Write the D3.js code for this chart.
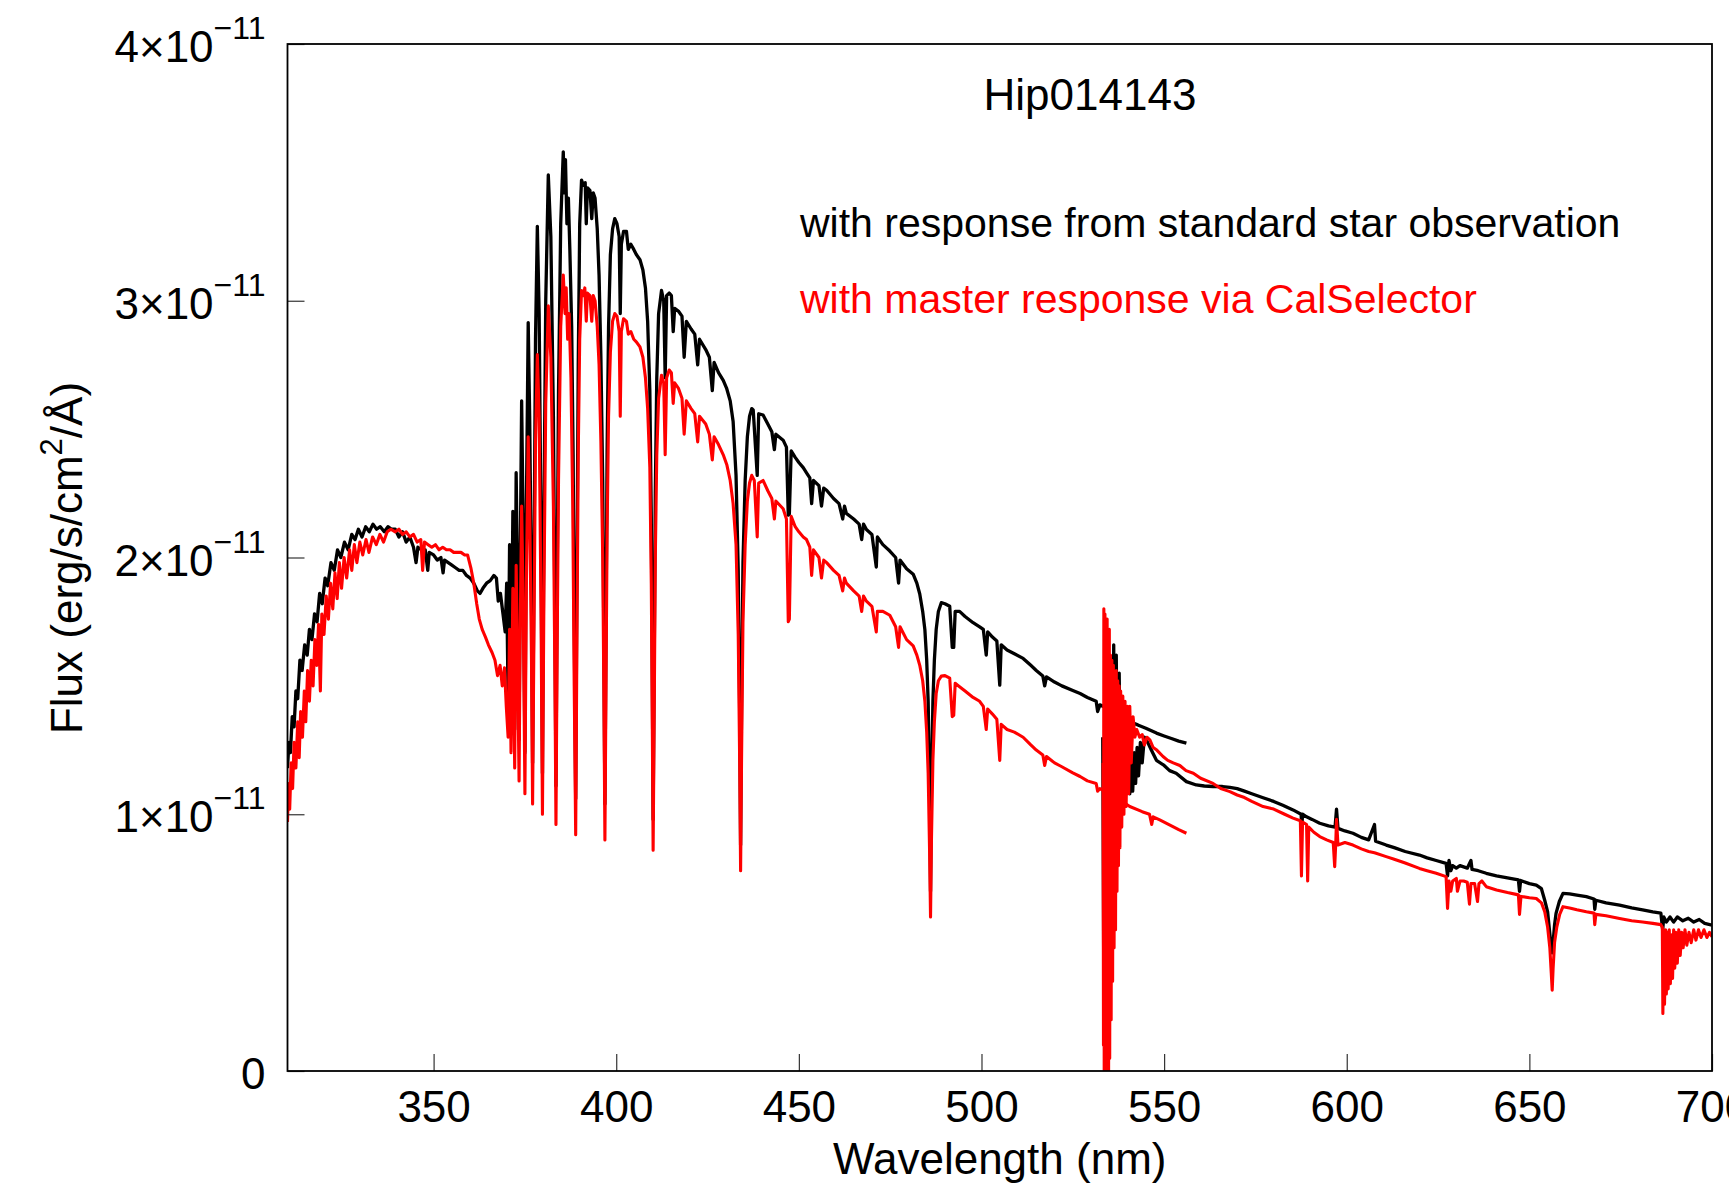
<!DOCTYPE html>
<html>
<head>
<meta charset="utf-8">
<script src="https://cdn.jsdelivr.net/npm/d3@7"></script>
<style>
  body { margin: 0; background: #fff; }
  text { font-family: "Liberation Sans", Arial, Helvetica, sans-serif; }
</style>
</head>
<body>
<script>
// flux values are in units of 1e-11 erg/s/cm2/A
const FLUX_UNIT = 1e-11;

const xTicks = [350, 400, 450, 500, 550, 600, 650, 700];
const yTicks = [0, 1, 2, 3, 4];

const chartTitle = "Hip014143";
const legendLabels = ["with response from standard star observation", "with master response via CalSelector"];

// black: response from standard star, blue arm
const blackBlueArm = [
  [310.0, 1.18], [310.4, 1.28], [310.8, 1.24], [311.3, 1.38], [311.8, 1.34], [312.3, 1.48], [312.8, 1.45],
  [313.4, 1.60], [314.0, 1.56], [314.7, 1.66], [315.4, 1.62], [316.0, 1.72], [316.7, 1.68], [317.4, 1.78],
  [318.1, 1.75], [318.8, 1.86], [319.5, 1.82], [320.3, 1.92], [321.0, 1.89], [321.9, 1.98], [322.8, 1.95],
  [323.7, 2.03], [324.6, 2.00], [325.6, 2.06], [326.6, 2.03], [327.6, 2.09], [328.5, 2.07], [329.4, 2.11],
  [330.4, 2.08], [331.4, 2.12], [332.4, 2.10], [333.4, 2.13], [334.4, 2.11], [335.4, 2.12], [336.5, 2.10],
  [337.5, 2.12], [338.5, 2.11], [339.5, 2.11], [340.5, 2.08], [341.5, 2.10], [342.5, 2.06], [343.5, 2.08],
  [344.5, 2.04], [345.2, 1.98], [345.7, 2.04], [346.7, 2.03], [347.7, 2.03], [348.4, 1.95], [348.8, 2.02],
  [350.0, 2.01], [351.0, 1.99], [352.0, 2.00], [352.6, 1.94], [353.0, 1.99], [354.0, 1.98], [355.0, 1.97],
  [356.0, 1.96], [357.0, 1.95], [358.0, 1.95], [359.0, 1.93], [360.0, 1.92], [361.0, 1.90], [362.0, 1.87],
  [362.7, 1.86], [363.5, 1.88], [364.5, 1.90], [365.5, 1.91], [366.5, 1.93], [367.2, 1.92], [367.7, 1.83],
  [368.3, 1.86], [369.0, 1.78], [369.6, 1.71], [370.0, 1.90], [370.4, 1.45], [370.8, 2.05], [371.2, 1.40],
  [371.7, 2.18], [372.2, 1.33], [372.6, 2.33], [373.0, 1.90], [373.4, 1.29], [373.7, 1.95], [374.1, 2.61],
  [374.5, 2.15], [375.0, 1.24], [375.4, 2.20], [375.9, 2.915], [376.3, 2.55], [376.8, 1.85], [377.1, 1.20],
  [377.5, 2.00], [377.9, 2.85], [378.4, 3.29], [378.9, 2.95], [379.4, 2.10], [379.8, 1.16], [380.2, 2.15],
  [380.7, 3.00], [381.4, 3.49], [382.1, 3.25], [382.8, 2.55], [383.2, 1.80], [383.5, 1.11], [383.8, 1.85],
  [384.2, 2.65], [384.8, 3.30], [385.5, 3.58], [385.8, 3.42], [386.1, 3.55], [386.5, 3.30], [386.9, 3.40],
  [387.3, 3.20], [387.8, 2.90], [388.2, 2.40], [388.5, 1.75], [388.9, 1.06], [389.2, 1.85], [389.6, 2.75],
  [390.0, 3.30], [390.5, 3.47], [391.0, 3.45], [391.5, 3.46], [391.8, 3.30], [392.1, 3.44], [392.8, 3.43],
  [393.3, 3.32], [393.7, 3.42], [394.2, 3.40], [394.8, 3.28], [395.3, 3.10], [395.8, 2.78], [396.3, 2.30],
  [396.6, 1.70], [396.9, 1.04], [397.2, 1.72], [397.5, 2.41], [397.9, 2.90], [398.4, 3.18], [399.0, 3.28],
  [399.6, 3.32], [400.2, 3.30], [400.8, 3.25], [401.1, 2.95], [401.4, 3.22], [402.0, 3.27], [402.8, 3.27],
  [403.3, 3.20], [404.0, 3.22], [404.8, 3.20], [405.5, 3.18], [406.5, 3.16], [407.3, 3.12], [408.0, 3.05],
  [408.6, 2.92], [409.2, 2.65], [409.6, 2.15], [409.9, 1.50], [410.1, 0.98], [410.4, 1.60], [410.7, 2.25],
  [411.1, 2.70], [411.6, 2.95], [412.4, 3.04], [413.0, 3.00], [413.4, 2.70], [413.8, 3.02], [414.5, 3.03],
  [415.1, 3.02], [415.6, 2.88], [416.0, 2.97], [417.0, 2.96], [418.0, 2.94], [418.6, 2.78], [419.2, 2.92],
  [420.5, 2.89], [421.5, 2.87], [422.3, 2.75], [422.8, 2.85], [424.5, 2.81], [425.5, 2.78], [426.3, 2.65],
  [426.8, 2.76], [428.0, 2.72], [429.3, 2.69], [430.2, 2.66], [431.2, 2.61], [432.0, 2.53], [432.8, 2.32],
  [433.4, 1.95], [433.8, 1.40], [434.05, 0.88], [434.3, 1.40], [434.7, 1.98], [435.3, 2.30], [435.9, 2.47],
  [436.5, 2.55], [437.1, 2.58], [437.5, 2.575], [438.6, 2.32], [439.0, 2.56], [440.2, 2.555], [441.5, 2.52],
  [442.6, 2.49], [443.3, 2.42], [443.7, 2.48], [445.7, 2.457], [446.6, 2.43], [447.1, 2.165], [447.4, 2.17],
  [447.9, 2.415], [449.0, 2.39], [450.0, 2.37], [451.2, 2.35], [452.1, 2.33], [453.0, 2.31], [453.5, 2.21],
  [454.0, 2.30], [455.5, 2.28], [456.2, 2.20], [456.8, 2.27], [457.6, 2.262], [459.5, 2.23], [461.0, 2.21],
  [462.0, 2.15], [462.5, 2.20], [463.0, 2.172], [465.0, 2.15], [466.5, 2.13], [467.2, 2.07], [467.7, 2.13],
  [468.5, 2.109], [470.0, 2.09], [471.2, 1.963], [471.5, 2.08], [473.0, 2.05], [474.9, 2.025], [476.5, 2.00],
  [477.3, 1.90], [477.7, 1.99], [479.5, 1.956], [481.3, 1.935], [482.3, 1.90], [483.1, 1.858], [483.9, 1.79],
  [484.5, 1.719], [485.0, 1.60], [485.4, 1.44], [485.8, 1.10], [486.05, 0.70], [486.3, 1.10], [486.7, 1.44],
  [487.1, 1.60], [487.6, 1.72], [488.2, 1.79], [489.0, 1.824], [490.0, 1.82], [491.3, 1.81], [492.0, 1.65],
  [492.4, 1.65], [492.8, 1.79], [494.0, 1.79], [495.5, 1.77], [497.7, 1.746], [499.5, 1.73], [500.5, 1.72],
  [501.3, 1.62], [501.7, 1.71], [503.0, 1.69], [504.2, 1.675], [505.0, 1.503], [505.4, 1.66], [507.0, 1.64],
  [509.0, 1.625], [511.4, 1.607], [513.5, 1.58], [515.0, 1.56], [516.8, 1.538], [517.3, 1.50], [517.8, 1.535],
  [520.0, 1.515], [522.0, 1.50], [525.0, 1.482], [527.0, 1.47], [529.0, 1.455], [531.4, 1.44], [531.8, 1.40],
  [532.4, 1.426], [535.0, 1.41], [538.0, 1.385], [540.6, 1.36], [542.8, 1.348], [545.0, 1.335], [547.9, 1.316],
  [550.0, 1.305], [552.0, 1.295], [554.0, 1.285], [556.1, 1.277]
];

// black: red arm
const blackRedArm = [
  [533.2, 1.30], [533.5, 0.30], [533.8, 1.50], [534.2, 0.20], [534.6, 1.40], [535.0, 0.40], [535.4, 1.45],
  [535.8, 0.60], [536.2, 1.66], [536.5, 0.80], [536.9, 1.62], [537.3, 0.90], [537.7, 1.55], [538.1, 1.00],
  [538.5, 1.45], [539.0, 1.05], [539.5, 1.30], [540.0, 1.10], [540.6, 1.08], [541.0, 1.22], [541.4, 1.09],
  [541.8, 1.24], [542.2, 1.12], [542.6, 1.26], [543.0, 1.15], [543.5, 1.28], [544.0, 1.20], [544.6, 1.30],
  [545.5, 1.28], [546.5, 1.25], [547.9, 1.21], [550.0, 1.19], [551.5, 1.17], [553.3, 1.16], [556.1, 1.127],
  [558.8, 1.114], [561.0, 1.11], [563.4, 1.108], [566.0, 1.108], [568.0, 1.105], [570.0, 1.10], [572.0, 1.09],
  [574.0, 1.08], [577.1, 1.064], [580.0, 1.05], [582.5, 1.035], [585.3, 1.017], [587.5, 1.00], [587.7, 0.95],
  [587.9, 1.00], [589.0, 0.99], [590.5, 0.98], [592.6, 0.965], [595.0, 0.955], [596.8, 0.95], [597.2, 1.02],
  [597.6, 0.945], [599.5, 0.935], [601.7, 0.926], [604.0, 0.91], [606.0, 0.90], [607.6, 0.96], [607.9, 0.895],
  [610.8, 0.88], [613.0, 0.87], [616.0, 0.855], [619.9, 0.841], [622.0, 0.83], [624.5, 0.82], [627.2, 0.809],
  [627.6, 0.76], [628.0, 0.82], [628.5, 0.78], [629.0, 0.80], [630.0, 0.79], [631.0, 0.80], [633.0, 0.79],
  [634.0, 0.82], [634.3, 0.785], [636.0, 0.78], [638.2, 0.77], [641.0, 0.76], [644.0, 0.752], [647.0, 0.744],
  [647.3, 0.70], [647.6, 0.742], [650.0, 0.73], [651.9, 0.724], [653.3, 0.71], [654.2, 0.665], [655.0, 0.62],
  [655.5, 0.549], [656.0, 0.48], [656.25, 0.46], [656.5, 0.50], [656.9, 0.57], [657.3, 0.614], [658.2, 0.66],
  [659.2, 0.692], [661.0, 0.69], [663.0, 0.685], [665.6, 0.679], [667.7, 0.67], [667.9, 0.63], [668.2, 0.665],
  [671.0, 0.655], [674.7, 0.646], [678.0, 0.635], [681.0, 0.628], [683.8, 0.62], [686.0, 0.615], [686.5, 0.549],
  [686.8, 0.60], [687.5, 0.58], [688.5, 0.60], [689.5, 0.58], [690.5, 0.60], [692.0, 0.585], [693.5, 0.595],
  [695.0, 0.58], [696.5, 0.59], [698.0, 0.575], [700.0, 0.568]
];

// red: master response via CalSelector, blue arm
const redBlueArm = [
  [310.0, 0.97], [310.3, 1.12], [310.6, 1.02], [311.0, 1.20], [311.4, 1.10], [311.8, 1.28], [312.3, 1.18],
  [312.8, 1.36], [313.2, 1.22], [313.6, 1.40], [314.1, 1.30], [314.6, 1.48], [315.0, 1.36], [315.5, 1.56],
  [316.0, 1.44], [316.5, 1.60], [317.0, 1.50], [317.5, 1.68], [318.0, 1.58], [318.5, 1.74], [319.0, 1.48],
  [319.4, 1.78], [320.0, 1.70], [320.6, 1.85], [321.2, 1.76], [321.8, 1.90], [322.4, 1.80], [323.0, 1.94],
  [323.6, 1.84], [324.2, 1.98], [324.8, 1.88], [325.5, 2.00], [326.2, 1.92], [327.0, 2.03], [327.6, 1.95],
  [328.3, 2.05], [329.0, 1.98], [329.8, 2.06], [330.6, 2.01], [331.5, 2.07], [332.3, 2.02], [333.3, 2.08],
  [334.3, 2.05], [335.3, 2.09], [336.3, 2.06], [337.3, 2.10], [338.3, 2.11], [339.5, 2.10], [340.5, 2.11],
  [341.5, 2.09], [342.5, 2.10], [343.5, 2.08], [344.5, 2.09], [345.5, 2.06], [346.5, 2.07], [347.0, 1.95],
  [347.5, 2.06], [348.5, 2.05], [349.5, 2.04], [350.5, 2.05], [351.5, 2.03], [352.5, 2.04], [353.5, 2.03],
  [354.5, 2.03], [355.5, 2.02], [356.5, 2.02], [357.5, 2.02], [358.5, 2.01], [359.3, 2.01], [360.2, 1.96],
  [361.0, 1.90], [361.8, 1.82], [362.5, 1.76], [363.3, 1.72], [364.2, 1.69], [365.0, 1.66], [366.0, 1.63],
  [366.8, 1.60], [367.5, 1.54], [368.2, 1.58], [368.8, 1.50], [369.4, 1.57], [369.9, 1.42], [370.4, 1.30],
  [370.8, 1.72], [371.2, 1.24], [371.7, 1.88], [372.2, 1.18], [372.6, 1.97], [373.0, 1.60], [373.4, 1.13],
  [373.7, 1.70], [374.1, 2.20], [374.5, 1.85], [375.0, 1.08], [375.4, 1.90], [375.9, 2.47], [376.3, 2.20],
  [376.8, 1.60], [377.1, 1.04], [377.5, 1.75], [377.9, 2.45], [378.4, 2.79], [378.9, 2.55], [379.4, 1.80],
  [379.8, 1.00], [380.2, 1.85], [380.7, 2.60], [381.4, 2.98], [382.1, 2.78], [382.8, 2.20], [383.2, 1.55],
  [383.5, 0.96], [383.8, 1.60], [384.2, 2.30], [384.8, 2.90], [385.5, 3.10], [386.0, 2.95], [386.3, 3.05],
  [386.7, 2.85], [387.1, 2.95], [387.6, 2.70], [388.1, 2.20], [388.5, 1.50], [388.9, 0.92], [389.2, 1.60],
  [389.6, 2.40], [390.0, 2.85], [390.5, 3.04], [391.0, 3.02], [391.4, 3.05], [391.8, 2.92], [392.1, 3.03],
  [392.8, 3.02], [393.3, 2.92], [393.7, 3.02], [394.2, 3.00], [394.8, 2.90], [395.3, 2.75], [395.8, 2.45],
  [396.3, 2.00], [396.6, 1.50], [396.9, 0.90], [397.2, 1.50], [397.5, 2.10], [397.9, 2.55], [398.4, 2.80],
  [399.0, 2.92], [399.6, 2.95], [400.2, 2.94], [400.8, 2.88], [401.1, 2.55], [401.4, 2.88], [402.0, 2.93],
  [402.8, 2.92], [403.3, 2.87], [404.0, 2.88], [404.8, 2.85], [405.5, 2.84], [406.5, 2.82], [407.3, 2.78],
  [408.0, 2.70], [408.6, 2.58], [409.2, 2.35], [409.6, 1.90], [409.9, 1.30], [410.1, 0.86], [410.4, 1.40],
  [410.7, 2.00], [411.1, 2.40], [411.6, 2.62], [412.4, 2.71], [413.0, 2.68], [413.4, 2.40], [413.8, 2.70],
  [414.5, 2.73], [415.1, 2.72], [415.6, 2.60], [416.0, 2.68], [417.0, 2.66], [418.0, 2.62], [418.6, 2.48],
  [419.2, 2.61], [420.5, 2.58], [421.5, 2.56], [422.3, 2.45], [422.8, 2.55], [424.5, 2.52], [425.5, 2.48],
  [426.3, 2.38], [426.8, 2.47], [428.0, 2.44], [429.3, 2.40], [430.3, 2.36], [431.2, 2.30], [432.0, 2.21],
  [432.8, 2.05], [433.4, 1.70], [433.8, 1.20], [434.05, 0.78], [434.3, 1.20], [434.7, 1.75], [435.3, 2.05],
  [435.9, 2.22], [436.5, 2.29], [437.1, 2.32], [437.8, 2.30], [438.6, 2.08], [439.0, 2.29], [440.2, 2.30],
  [441.5, 2.26], [442.6, 2.23], [443.3, 2.15], [443.7, 2.22], [445.7, 2.19], [446.6, 2.15], [447.1, 1.75],
  [447.4, 1.76], [447.9, 2.16], [449.0, 2.12], [450.0, 2.10], [451.2, 2.08], [452.1, 2.07], [453.0, 2.04],
  [453.5, 1.93], [454.0, 2.03], [455.5, 2.00], [456.2, 1.92], [456.8, 1.99], [457.6, 1.98], [459.5, 1.95],
  [461.0, 1.93], [462.0, 1.87], [462.5, 1.92], [463.0, 1.90], [465.0, 1.87], [466.5, 1.85], [467.2, 1.79],
  [467.7, 1.85], [468.5, 1.83], [470.0, 1.81], [471.2, 1.71], [471.5, 1.79], [473.0, 1.79], [474.9, 1.775],
  [476.5, 1.73], [477.3, 1.65], [477.7, 1.73], [479.5, 1.68], [481.3, 1.656], [482.3, 1.62], [483.1, 1.58],
  [483.9, 1.52], [484.5, 1.44], [485.0, 1.32], [485.4, 1.16], [485.8, 0.85], [486.05, 0.60], [486.3, 0.90],
  [486.7, 1.21], [487.1, 1.36], [487.6, 1.47], [488.2, 1.52], [489.0, 1.538], [490.0, 1.54], [491.3, 1.53],
  [492.0, 1.38], [492.4, 1.385], [492.8, 1.51], [494.0, 1.497], [495.5, 1.48], [497.7, 1.455], [499.5, 1.44],
  [500.5, 1.42], [501.3, 1.33], [501.7, 1.41], [503.0, 1.39], [504.2, 1.37], [505.0, 1.21], [505.4, 1.35],
  [507.0, 1.33], [509.0, 1.32], [511.4, 1.30], [513.5, 1.27], [515.0, 1.25], [516.8, 1.231], [517.3, 1.19],
  [517.8, 1.225], [520.0, 1.20], [522.0, 1.185], [525.0, 1.161], [527.0, 1.147], [529.0, 1.13], [531.4, 1.12],
  [531.8, 1.09], [532.4, 1.10], [535.0, 1.08], [538.0, 1.055], [540.6, 1.03], [544.0, 1.01], [546.0, 1.00],
  [546.6, 0.96], [547.0, 0.99], [548.8, 0.978], [552.0, 0.955], [554.0, 0.94], [556.1, 0.926]
];

// red: red arm
const redRedArm = [
  [533.3, 1.20], [533.4, 0.10], [533.5, 1.80], [533.6, 0.00], [533.8, 1.78], [533.9, 0.05], [534.1, 1.70],
  [534.2, 0.00], [534.4, 1.76], [534.5, 0.15], [534.7, 1.65], [534.8, 0.00], [535.0, 1.72], [535.1, 0.05],
  [535.3, 1.62], [535.5, 0.20], [535.7, 1.60], [535.9, 0.35], [536.1, 1.58], [536.3, 0.48], [536.5, 1.55],
  [536.7, 0.55], [536.9, 1.56], [537.1, 0.70], [537.3, 1.52], [537.5, 0.80], [537.7, 1.50], [537.9, 0.87],
  [538.1, 1.48], [538.4, 0.95], [538.7, 1.46], [539.0, 1.00], [539.3, 1.44], [539.6, 1.03], [540.0, 1.42],
  [540.3, 1.08], [540.6, 1.42], [541.0, 1.20], [541.5, 1.38], [542.0, 1.30], [542.5, 1.33], [543.3, 1.30],
  [544.0, 1.31], [544.6, 1.27], [545.3, 1.30], [546.1, 1.29], [547.0, 1.26], [548.0, 1.25], [549.7, 1.225],
  [551.0, 1.21], [552.5, 1.20], [554.3, 1.19], [556.0, 1.17], [558.0, 1.16], [560.0, 1.14], [563.4, 1.12],
  [565.5, 1.10], [568.0, 1.088], [570.0, 1.075], [572.0, 1.065], [574.0, 1.05], [577.1, 1.03], [580.0, 1.02],
  [583.0, 1.00], [585.3, 0.985], [587.3, 0.975], [587.6, 0.76], [587.9, 0.97], [589.0, 0.96], [589.3, 0.74],
  [589.6, 0.95], [591.0, 0.93], [592.6, 0.913], [594.5, 0.90], [596.3, 0.89], [596.7, 0.796], [597.0, 0.89],
  [597.2, 0.98], [597.6, 0.88], [599.5, 0.89], [601.7, 0.88], [604.0, 0.865], [606.0, 0.855], [607.6, 0.85],
  [610.8, 0.835], [613.0, 0.825], [616.0, 0.81], [619.9, 0.789], [622.0, 0.78], [624.5, 0.77], [627.2, 0.757],
  [627.6, 0.633], [628.0, 0.74], [628.5, 0.70], [629.0, 0.74], [630.0, 0.75], [630.3, 0.70], [631.0, 0.74],
  [632.0, 0.74], [633.0, 0.735], [633.6, 0.65], [634.0, 0.73], [635.0, 0.73], [635.8, 0.66], [636.2, 0.73],
  [637.0, 0.74], [638.2, 0.718], [641.0, 0.705], [644.0, 0.695], [647.0, 0.686], [647.3, 0.61], [647.7, 0.68],
  [650.0, 0.675], [651.9, 0.672], [653.3, 0.655], [654.2, 0.62], [655.0, 0.56], [655.6, 0.48], [656.0, 0.38],
  [656.25, 0.315], [656.5, 0.40], [656.9, 0.50], [657.5, 0.56], [658.3, 0.61], [659.2, 0.64], [661.0, 0.635],
  [663.0, 0.628], [665.6, 0.62], [667.7, 0.615], [667.9, 0.57], [668.2, 0.61], [671.0, 0.605], [674.7, 0.594],
  [678.0, 0.585], [681.0, 0.58], [683.8, 0.575], [686.0, 0.57], [686.4, 0.56], [686.55, 0.224], [686.8, 0.55],
  [687.0, 0.26], [687.3, 0.55], [687.5, 0.30], [687.8, 0.54], [688.0, 0.32], [688.3, 0.55], [688.6, 0.34],
  [688.9, 0.53], [689.2, 0.36], [689.5, 0.55], [689.8, 0.40], [690.1, 0.54], [690.5, 0.42], [690.9, 0.55],
  [691.3, 0.45], [691.7, 0.54], [692.1, 0.48], [692.6, 0.55], [693.1, 0.49], [693.7, 0.54], [694.3, 0.50],
  [695.0, 0.55], [695.6, 0.51], [696.3, 0.55], [697.0, 0.52], [697.8, 0.55], [698.6, 0.52], [699.3, 0.54],
  [700.0, 0.523]
];

const width = 1729, height = 1185;
const margin = {top: 44, right: 17, bottom: 114, left: 287.5};

const svg = d3.select("body")
  .append("svg")
  .attr("width", width)
  .attr("height", height);

let x = d3.scaleLinear()
  .domain([310, 700])
  .range([margin.left, width - margin.right]);

let y = d3.scaleLinear()
  .domain([0, 4 * FLUX_UNIT])
  .range([height - margin.bottom, margin.top]);

svg.append("clipPath")
  .attr("id", "plotClip")
  .append("rect")
  .attr("x", margin.left)
  .attr("y", margin.top)
  .attr("width", width - margin.left - margin.right)
  .attr("height", height - margin.top - margin.bottom);

let line = d3.line()
  .x(function(d) { return x(d[0]); })
  .y(function(d) { return y(d[1] * FLUX_UNIT); });

let plot = svg.append("g").attr("clip-path", "url(#plotClip)");

// black first, red drawn over it
[blackBlueArm, blackRedArm].forEach(function(seg) {
  plot.append("path")
    .datum(seg)
    .attr("d", line)
    .attr("fill", "none")
    .attr("stroke", "#000")
    .attr("stroke-width", 3.3)
    .attr("stroke-linejoin", "round");
});
[redBlueArm, redRedArm].forEach(function(seg) {
  plot.append("path")
    .datum(seg)
    .attr("d", line)
    .attr("fill", "none")
    .attr("stroke", "#ff0000")
    .attr("stroke-width", 3.1)
    .attr("stroke-linejoin", "round");
});

// axes, ticks point inward
let xAxis = svg.append("g")
  .attr("transform", `translate(0, ${height - margin.bottom})`)
  .call(d3.axisBottom(x).tickValues(xTicks).tickSize(-17).tickPadding(20).tickFormat(d3.format("d")));

let yAxis = svg.append("g")
  .attr("transform", `translate(${margin.left}, 0)`)
  .call(d3.axisLeft(y).tickValues(yTicks.map(function(v) { return v * FLUX_UNIT; })).tickSize(-17).tickPadding(22));

[xAxis, yAxis].forEach(function(ax) {
  ax.select(".domain").remove();
  ax.selectAll(".tick line").attr("stroke", "#333").attr("stroke-width", 1.2);
  ax.selectAll(".tick text")
    .attr("fill", "#000")
    .style("font-size", "44px")
    .style("font-family", "'Liberation Sans', Arial, Helvetica, sans-serif");
});

yAxis.selectAll(".tick text")
  .attr("dy", "0.4em")
  .each(function(d) {
    let t = d3.select(this);
    let n = Math.round(d / FLUX_UNIT);
    t.text(null);
    if (n === 0) {
      t.text("0");
      return;
    }
    t.append("tspan").text(n + "\u00d710");
    t.append("tspan")
      .attr("dy", -23)
      .style("font-size", "32px")
      .text("\u221211");
  });

// frame
svg.append("rect")
  .attr("x", margin.left)
  .attr("y", margin.top)
  .attr("width", width - margin.left - margin.right)
  .attr("height", height - margin.top - margin.bottom)
  .attr("fill", "none")
  .attr("stroke", "#000")
  .attr("stroke-width", 1.8);

// axis labels
svg.append("text")
  .attr("x", (margin.left + width - margin.right) / 2)
  .attr("y", 1174)
  .style("text-anchor", "middle")
  .style("font-size", "44px")
  .text("Wavelength (nm)");

let yLabel = svg.append("text")
  .attr("transform", "translate(82, 558) rotate(-90)")
  .style("text-anchor", "middle")
  .style("font-size", "44px");
yLabel.append("tspan").text("Flux (erg/s/cm");
yLabel.append("tspan").attr("dy", -20).style("font-size", "31px").text("2");
yLabel.append("tspan").attr("dy", 20).text("/\u00c5)");

// title and legend text
svg.append("text")
  .attr("x", 1090)
  .attr("y", 110)
  .style("text-anchor", "middle")
  .style("font-size", "44px")
  .text(chartTitle);

svg.append("text")
  .attr("x", 800)
  .attr("y", 237)
  .style("font-size", "41px")
  .attr("fill", "#000")
  .text(legendLabels[0]);

svg.append("text")
  .attr("x", 800)
  .attr("y", 313)
  .style("font-size", "41px")
  .attr("fill", "#ff0000")
  .text(legendLabels[1]);
</script>
</body>
</html>
